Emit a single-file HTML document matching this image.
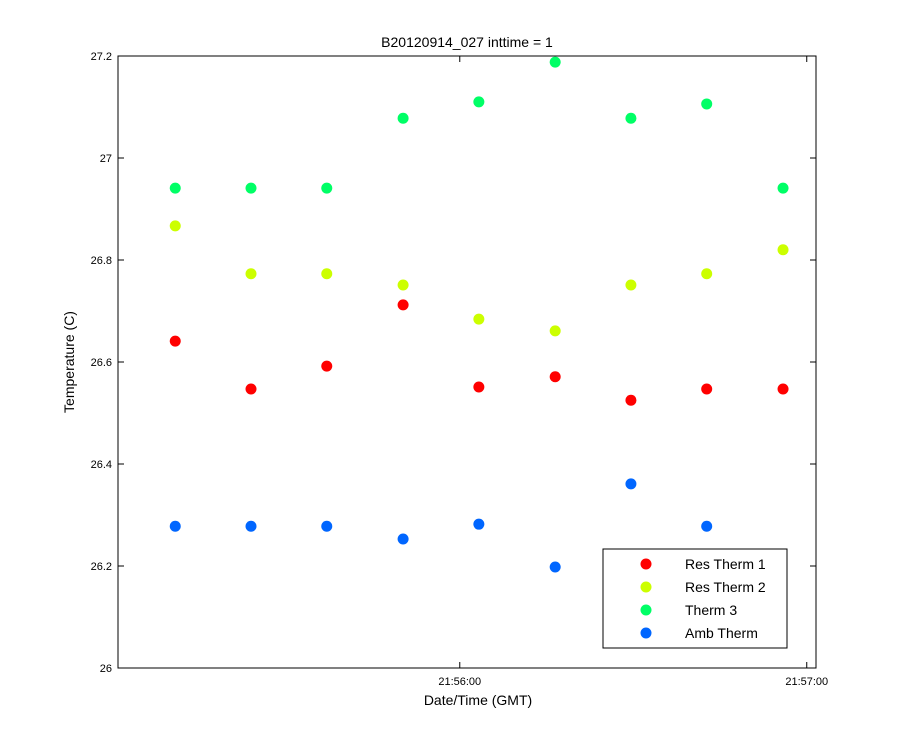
<!DOCTYPE html>
<html><head><meta charset="utf-8"><style>
body{margin:0;background:#fff;}
svg{display:block;font-family:"Liberation Sans",sans-serif;}
</style></head><body>
<svg id="chart" width="900" height="750">
<rect width="900" height="750" fill="#fff"/>
<g id="plot"></g>
</svg>
<script>
const times=[10.8,23.9,37.0,50.2,63.3,76.5,89.6,102.7,115.9]; // seconds after 21:55:00
const resTherm1=[26.641,26.547,26.592,26.712,26.551,26.571,26.525,26.547,26.547];
const resTherm2=[26.867,26.773,26.773,26.751,26.684,26.661,26.751,26.773,26.820];
const therm3=[26.941,26.941,26.941,27.078,27.110,27.188,27.078,27.106,26.941];
const ambTherm=[26.278,26.278,26.278,26.253,26.282,26.198,26.361,26.278,null];
const yTicks=[26,26.2,26.4,26.6,26.8,27,27.2];
const yTickLabels=["26","26.2","26.4","26.6","26.8","27","27.2"];
const xTicks=[60,120];
const xTickLabels=["21:56:00","21:57:00"];
const seriesNames=["Res Therm 1","Res Therm 2","Therm 3","Amb Therm"];

const NS="http://www.w3.org/2000/svg";
const L=118,R=816,T=56,B=668;
const xMin=0.9,xMax=121.6,yMin=26,yMax=27.2;
const sx=v=>L+(v-xMin)/(xMax-xMin)*(R-L);
const sy=v=>B-(v-yMin)/(yMax-yMin)*(B-T);
const g=document.getElementById('plot');
function mk(tag,attrs,parent){const e=document.createElementNS(NS,tag);for(const k in attrs)e.setAttribute(k,attrs[k]);(parent||g).appendChild(e);return e;}

const frame=mk('rect',{x:L,y:T,width:R-L,height:B-T,fill:'none',stroke:'#000','stroke-width':1});



yTicks.forEach((v,i)=>{
  const y=sy(v);
  const t1=mk('line',{x1:L,x2:L+6,y1:y,y2:y,stroke:'#000'});
  
  
  const t2=mk('line',{x1:R,x2:R-6,y1:y,y2:y,stroke:'#000'});
  
  
  const tx=mk('text',{x:L-6,y:y+4,'text-anchor':'end','font-size':11});
  tx.textContent=yTickLabels[i];
  
  
});
xTicks.forEach((v,i)=>{
  const x=sx(v);
  const t1=mk('line',{x1:x,x2:x,y1:B,y2:B-6,stroke:'#000'});
  
  
  const t2=mk('line',{x1:x,x2:x,y1:T,y2:T+6,stroke:'#000'});
  
  
  const tx=mk('text',{x:x,y:B+17,'text-anchor':'middle','font-size':11});
  tx.textContent=xTickLabels[i];
  
  
});

const title=mk('text',{x:467,y:47,'text-anchor':'middle','font-size':14});
title.textContent='B20120914_027 inttime = 1';


const xt=mk('text',{x:478,y:705,'text-anchor':'middle','font-size':14});
xt.textContent='Date/Time (GMT)';


const yt=mk('text',{x:0,y:0,'text-anchor':'middle','font-size':14,transform:'translate(74,362) rotate(-90)'});
yt.textContent='Temperature (C)';



const series=[resTherm1,resTherm2,therm3,ambTherm];
const colors=['#ff0000','#ccff00','#00ff66','#0066ff'];
const keys=['res-therm-1','res-therm-2','therm-3','amb-therm'];
series.forEach((arr,si)=>{
  arr.forEach((v,i)=>{
    if(v===null)return;
    const c=mk('circle',{cx:sx(times[i]),cy:sy(v),r:5.5,fill:colors[si]});
    
    
  });
});

const lg=mk('g',{});


mk('rect',{x:603,y:549,width:184,height:99,fill:'#fff',stroke:'#000'},lg);
seriesNames.forEach((n,i)=>{
  const y=564+i*23;
  const c=mk('circle',{cx:646,cy:y,r:5.5,fill:colors[i]},lg);
  
  
  const t=mk('text',{x:685,y:y+5,'font-size':14},lg);
  t.textContent=n;
  
  
});
</script>
</body></html>
